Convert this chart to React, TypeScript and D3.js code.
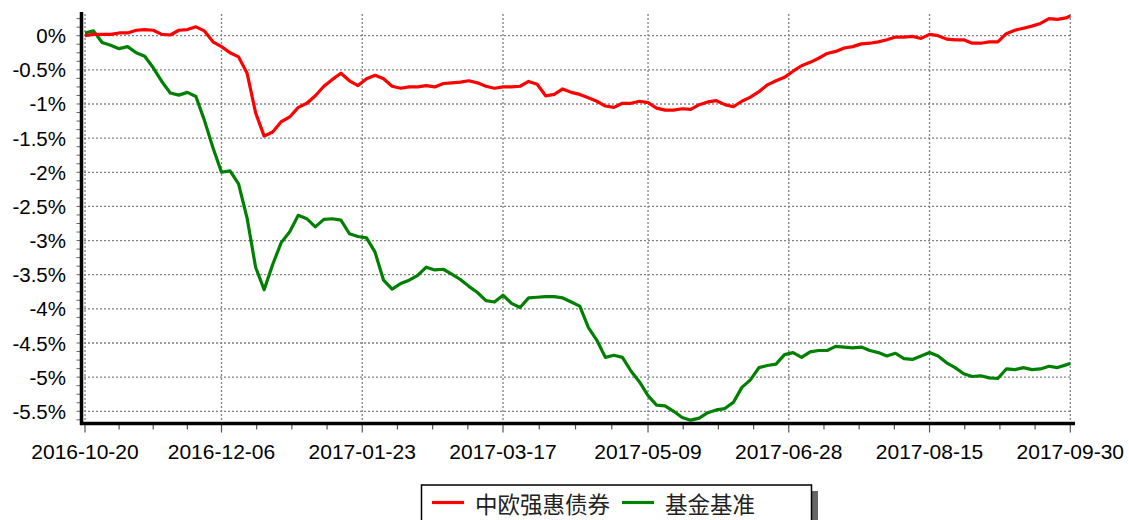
import React, { useEffect, useRef } from 'react';
import * as d3 from 'd3';

// trading-day index of each date label on the x axis
const dateLabels = ['2016-10-20', '2016-12-06', '2017-01-23', '2017-03-17', '2017-05-09', '2017-06-28', '2017-08-15', '2017-09-30'];
const dateTickIndex = [0, 32, 65, 98, 132, 165, 198, 231];
const lastIndex = 231;

const yTicks = [0, -0.5, -1, -1.5, -2, -2.5, -3, -3.5, -4, -4.5, -5, -5.5];

const fundName = '中欧强惠债券';
const benchName = '基金基准';

// cumulative return in %, one reading every 2 trading days (last one = 2017-09-30)
const fundValues = [
  0.0, 0.02, 0.02, 0.02, 0.04, 0.04, 0.08, 0.09, 0.08, 0.02,
  0.01, 0.08, 0.09, 0.13, 0.07, -0.09, -0.16, -0.25, -0.31, -0.55,
  -1.13, -1.47, -1.41, -1.26, -1.19, -1.05, -0.99, -0.88, -0.74, -0.64,
  -0.55, -0.66, -0.73, -0.63, -0.58, -0.63, -0.74, -0.77, -0.75, -0.75,
  -0.73, -0.75, -0.70, -0.69, -0.68, -0.66, -0.69, -0.74, -0.77, -0.75,
  -0.75, -0.74, -0.67, -0.71, -0.88, -0.86, -0.78, -0.83, -0.86, -0.91,
  -0.96, -1.03, -1.05, -0.99, -0.99, -0.96, -0.98, -1.06, -1.09, -1.09,
  -1.07, -1.08, -1.01, -0.97, -0.95, -1.01, -1.04, -0.96, -0.90, -0.82,
  -0.72, -0.66, -0.61, -0.52, -0.44, -0.39, -0.33, -0.26, -0.23, -0.18,
  -0.16, -0.12, -0.11, -0.09, -0.06, -0.02, -0.02, -0.01, -0.04, 0.02,
  0.00, -0.05, -0.06, -0.06, -0.11, -0.11, -0.09, -0.09, 0.03, 0.08,
  0.11, 0.14, 0.18, 0.25, 0.24, 0.26, 0.29,
];

const benchValues = [
  0.04, 0.07, -0.10, -0.14, -0.19, -0.16, -0.25, -0.30, -0.47, -0.67,
  -0.84, -0.87, -0.83, -0.89, -1.24, -1.64, -2.00, -1.98, -2.17, -2.67,
  -3.39, -3.72, -3.35, -3.03, -2.87, -2.63, -2.68, -2.80, -2.69, -2.68,
  -2.70, -2.90, -2.94, -2.96, -3.17, -3.58, -3.71, -3.63, -3.58, -3.51,
  -3.39, -3.43, -3.42, -3.49, -3.57, -3.67, -3.76, -3.88, -3.90, -3.80,
  -3.92, -3.98, -3.84, -3.83, -3.82, -3.82, -3.84, -3.90, -3.96, -4.27,
  -4.46, -4.71, -4.68, -4.71, -4.91, -5.07, -5.27, -5.41, -5.42, -5.50,
  -5.59, -5.63, -5.60, -5.52, -5.48, -5.46, -5.37, -5.15, -5.04, -4.86,
  -4.83, -4.81, -4.67, -4.64, -4.71, -4.63, -4.61, -4.61, -4.55, -4.56,
  -4.57, -4.56, -4.61, -4.64, -4.69, -4.65, -4.73, -4.74, -4.69, -4.64,
  -4.69, -4.79, -4.86, -4.95, -4.99, -4.98, -5.01, -5.02, -4.88, -4.89,
  -4.86, -4.89, -4.88, -4.84, -4.86, -4.82, -4.80,
];

const ReturnChart = () => {
  const svgRef = useRef<SVGSVGElement>(null);

  useEffect(() => {
    if (!svgRef.current) return;
    const svg = d3.select(svgRef.current);
    svg.selectAll('*').remove();

    const width = 1129;
    const height = 520;
    const axisX = 81.5;
    const axisY = 423.5;
    const plotTop = 12;
    const plotRight = 1072;

    const x = d3.scaleLinear().domain([0, lastIndex]).range([85, 1070.3]);
    const y = d3.scaleLinear().domain([-5.5, 0]).range([411.3, 35.7]);

    svg.attr('width', width).attr('height', height);

    const grid = svg.append('g');
    // horizontal dotted grid
    grid.selectAll('line.h')
      .data(yTicks)
      .join('line')
      .attr('class', 'h')
      .attr('x1', 84).attr('x2', plotRight)
      .attr('y1', d => y(d)).attr('y2', d => y(d))
      .attr('stroke', '#808080')
      .attr('stroke-width', 1.3)
      .attr('stroke-dasharray', '2,2');
    // vertical dotted grid
    grid.selectAll('line.v')
      .data(dateTickIndex)
      .join('line')
      .attr('class', 'v')
      .attr('x1', d => x(d)).attr('x2', d => x(d))
      .attr('y1', plotTop + 2).attr('y2', axisY - 1)
      .attr('stroke', '#808080')
      .attr('stroke-width', 1.3)
      .attr('stroke-dasharray', '2,2');

    // y minor ticks every 0.125%
    const yMinor = d3.range(0.25, -5.7, -0.125);
    svg.append('g').selectAll('line')
      .data(yMinor)
      .join('line')
      .attr('x1', axisX - 5).attr('x2', axisX)
      .attr('y1', d => y(d)).attr('y2', d => y(d))
      .attr('stroke', '#666')
      .attr('stroke-width', 1);

    // x ticks: majors at labels, three minors in between
    const xMinor: number[] = [];
    for (let i = 0; i < dateTickIndex.length - 1; i++) {
      const a = dateTickIndex[i], b = dateTickIndex[i + 1];
      for (let j = 1; j < 4; j++) xMinor.push(a + (b - a) * j / 4);
    }
    svg.append('g').selectAll('line')
      .data(xMinor)
      .join('line')
      .attr('x1', d => x(d)).attr('x2', d => x(d))
      .attr('y1', axisY).attr('y2', axisY + 6)
      .attr('stroke', '#555')
      .attr('stroke-width', 1.2);
    svg.append('g').selectAll('line')
      .data(dateTickIndex)
      .join('line')
      .attr('x1', d => x(d)).attr('x2', d => x(d))
      .attr('y1', axisY).attr('y2', axisY + 9)
      .attr('stroke', '#555')
      .attr('stroke-width', 1.2);

    // lines
    const line = d3.line<number>()
      .x((_, i) => x(Math.min(i * 2, lastIndex)))
      .y(d => y(d));

    svg.append('path')
      .datum(benchValues)
      .attr('d', line)
      .attr('fill', 'none')
      .attr('stroke', '#008000')
      .attr('stroke-width', 3.2)
      .attr('stroke-linejoin', 'round');
    svg.append('path')
      .datum(fundValues)
      .attr('d', line)
      .attr('fill', 'none')
      .attr('stroke', '#ff0000')
      .attr('stroke-width', 3.2)
      .attr('stroke-linejoin', 'round');

    // axes
    svg.append('line')
      .attr('x1', axisX).attr('x2', axisX)
      .attr('y1', plotTop).attr('y2', axisY + 1.5)
      .attr('stroke', '#000').attr('stroke-width', 3.5);
    svg.append('line')
      .attr('x1', axisX - 1.5).attr('x2', 1075)
      .attr('y1', axisY).attr('y2', axisY)
      .attr('stroke', '#000').attr('stroke-width', 3.5);

    const font = '"Liberation Sans", Arial, sans-serif';

    svg.append('g').selectAll('text')
      .data(yTicks)
      .join('text')
      .attr('x', 66)
      .attr('y', d => y(d) + 7.5)
      .attr('text-anchor', 'end')
      .attr('font-family', font)
      .attr('font-size', 20.5)
      .attr('fill', '#000')
      .text(d => `${d}%`);

    svg.append('g').selectAll('text')
      .data(dateTickIndex)
      .join('text')
      .attr('x', d => x(d))
      .attr('y', 459)
      .attr('text-anchor', 'middle')
      .attr('font-family', font)
      .attr('font-size', 21)
      .attr('fill', '#000')
      .text((_, i) => dateLabels[i]);

    // legend
    const legend = svg.append('g');
    legend.append('rect')
      .attr('x', 812).attr('y', 491)
      .attr('width', 6).attr('height', 40)
      .attr('fill', '#666');
    legend.append('rect')
      .attr('x', 421.5).attr('y', 485)
      .attr('width', 390).attr('height', 50)
      .attr('fill', '#fff')
      .attr('stroke', '#000')
      .attr('stroke-width', 1.5);
    const items = [
      { name: fundName, color: '#ff0000', x0: 432 },
      { name: benchName, color: '#008000', x0: 622 },
    ];
    items.forEach(it => {
      legend.append('line')
        .attr('x1', it.x0).attr('x2', it.x0 + 32)
        .attr('y1', 502.5).attr('y2', 502.5)
        .attr('stroke', it.color).attr('stroke-width', 3.2);
      legend.append('text')
        .attr('x', it.x0 + 43)
        .attr('y', 503)
        .attr('dominant-baseline', 'central')
        .attr('font-family', '"Noto Sans CJK SC", sans-serif')
        .attr('font-size', 22.5)
        .attr('fill', '#222')
        .text(it.name);
    });
  }, []);

  return (
    <svg ref={svgRef} style={{ position: 'absolute', left: 0, top: 0 }}></svg>
  );
};

export default function App() {
  return <ReturnChart />;
}
